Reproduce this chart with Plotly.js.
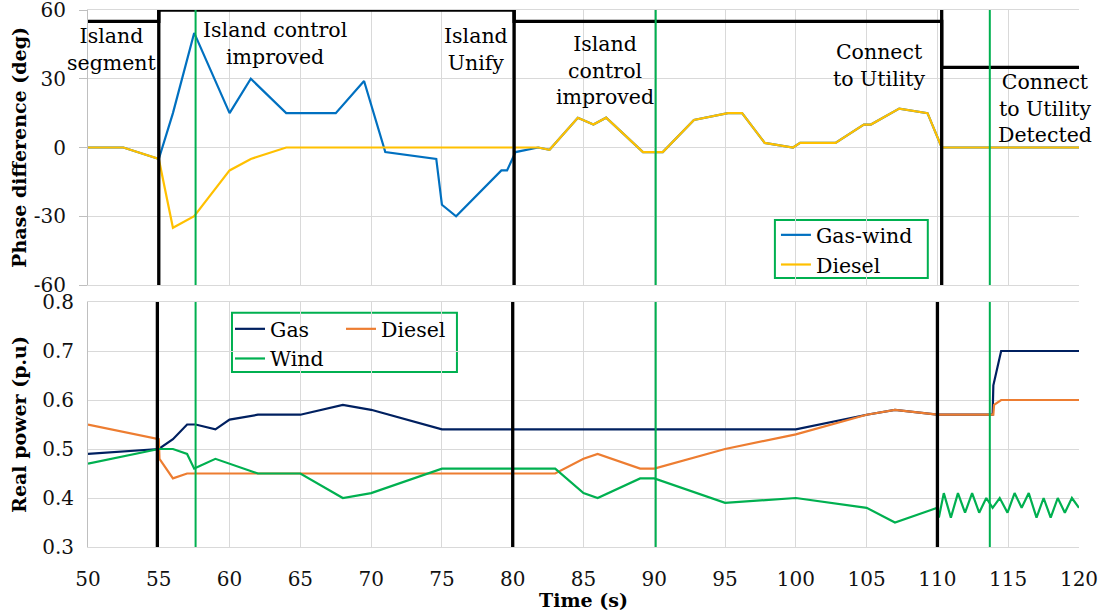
<!DOCTYPE html>
<html>
<head>
<meta charset="utf-8">
<script src="https://cdn.plot.ly/plotly-3.0.1.min.js"></script>
<style>
  html, body { margin: 0; padding: 0; background: #fff; }
  #chart { width: 1108px; height: 611px; }
</style>
</head>
<body>
<div id="chart"></div>
<script>
// ---------- data ----------
// Top panel: phase difference (deg)
const gasWindX = [50, 52.5, 55, 56, 57.5, 60, 61.5, 64, 67.5, 69.5, 71, 74.6, 75, 76, 79.2, 79.6, 80.2, 81.8, 82.6, 84.6, 85.7, 86.6, 89.2, 90.6, 92.8, 95.2, 96.2, 97.8, 99.8, 100.3, 102.8, 104.8, 105.3, 107.3, 109.3, 110.3, 120];
const gasWindY = [0, 0, -5, 15, 50, 15, 30, 15, 15, 29, -2, -5, -25, -30, -10, -10, -2, 0, -1, 13, 10, 13, -2, -2, 12, 15, 15, 2, 0, 2, 2, 10, 10, 17, 15, 0, 0];

const dieselPhX = [50, 52.5, 55, 56, 57.5, 60, 61.5, 64, 81.8, 82.6, 84.6, 85.7, 86.6, 89.2, 90.6, 92.8, 95.2, 96.2, 97.8, 99.8, 100.3, 102.8, 104.8, 105.3, 107.3, 109.3, 110.3, 120];
const dieselPhY = [0, 0, -5, -35, -30, -10, -5, 0, 0, -1, 13, 10, 13, -2, -2, 12, 15, 15, 2, 0, 2, 2, 10, 10, 17, 15, 0, 0];

// Mode indicator step line (top panel)
const modeX = [50, 55, 55, 80.1, 80.1, 110.3, 110.3, 120];
const modeY = [55, 55, 60, 60, 55, 55, 35, 35];

// Event markers
const topBlackX = [55, 80.1, 110.3];
const botBlackX = [54.9, 80, 110];
const greenX = [57.6, 90.1, 113.7];

// Bottom panel: real power (p.u)
const gasX = [50, 55, 56, 57, 57.6, 59, 60, 62, 65, 68, 70, 75, 100, 105, 107, 110, 113.9, 113.95, 114.5, 120];
const gasY = [0.49, 0.50, 0.52, 0.55, 0.55, 0.54, 0.56, 0.57, 0.57, 0.59, 0.58, 0.54, 0.54, 0.57, 0.58, 0.57, 0.57, 0.63, 0.70, 0.70];

const dieselX = [50, 55, 55.05, 56, 57, 83, 85, 86, 89, 90, 95, 100, 105, 107, 110, 113.95, 114, 114.5, 120];
const dieselY = [0.55, 0.52, 0.48, 0.44, 0.45, 0.45, 0.48, 0.49, 0.46, 0.46, 0.50, 0.53, 0.57, 0.58, 0.57, 0.57, 0.59, 0.60, 0.60];

const windX = [50, 55, 56, 57, 57.5, 59, 62, 65, 68, 70, 75, 83, 85, 86, 89, 90, 95, 100, 105, 107, 110, 110.1, 110.45, 110.95, 111.45, 111.95, 112.45, 112.95, 113.45, 113.9, 114.4, 114.95, 115.45, 115.95, 116.45, 117, 117.5, 118, 118.5, 119, 119.5, 120];
const windY = [0.47, 0.50, 0.50, 0.49, 0.46, 0.48, 0.45, 0.45, 0.40, 0.41, 0.46, 0.46, 0.41, 0.40, 0.44, 0.44, 0.39, 0.40, 0.38, 0.35, 0.38, 0.36, 0.41, 0.36, 0.41, 0.37, 0.41, 0.37, 0.40, 0.38, 0.40, 0.37, 0.41, 0.38, 0.41, 0.36, 0.40, 0.36, 0.40, 0.37, 0.40, 0.38];

// Ticks
const xTicks = [50, 55, 60, 65, 70, 75, 80, 85, 90, 95, 100, 105, 110, 115, 120];
const phaseTicks = [-60, -30, 0, 30, 60];
const phaseTickText = ['-60', '-30', '0', '30', '60'];
const powerTicks = [0.3, 0.4, 0.5, 0.6, 0.7, 0.8];

// Annotations (top panel)
const noteText = ['Island<br>segment', 'Island control<br>improved', 'Island<br>Unify', 'Island<br>control<br>improved', 'Connect<br>to Utility', 'Connect<br>to Utility<br>Detected'];
const noteX = [51.66, 63.2, 77.4, 86.5, 105.9, 117.6];
const noteY = [42.6, 45.4, 42.6, 33.8, 35.8, 17.2];

// ---------- helpers ----------
function vlines(xs, y0, y1) {
  const x = [], y = [];
  xs.forEach(v => { x.push(v, v, null); y.push(y0, y1, null); });
  return { x, y };
}

const FONT = 'DejaVu Serif, Liberation Serif, serif';
const GRID = '#D9D9D9';

const tb = vlines(topBlackX, phaseTicks[0], phaseTicks[phaseTicks.length - 1]);
const tg = vlines(greenX, phaseTicks[0], phaseTicks[phaseTicks.length - 1]);
const bb = vlines(botBlackX, powerTicks[0], powerTicks[powerTicks.length - 1]);
const bg = vlines(greenX, powerTicks[0], powerTicks[powerTicks.length - 1]);

const traces = [
  { x: gasWindX, y: gasWindY, xaxis: 'x2', yaxis: 'y', mode: 'lines', name: 'Gas-wind',
    line: { color: '#0070C0', width: 2.2 }, legend: 'legend' },
  { x: dieselPhX, y: dieselPhY, xaxis: 'x2', yaxis: 'y', mode: 'lines', name: 'Diesel',
    line: { color: '#FFC000', width: 2.2 }, legend: 'legend' },
  { x: modeX, y: modeY, xaxis: 'x2', yaxis: 'y', mode: 'lines', showlegend: false, cliponaxis: false,
    line: { color: '#000000', width: 3.3 } },
  { x: tb.x, y: tb.y, xaxis: 'x2', yaxis: 'y', mode: 'lines', showlegend: false,
    line: { color: '#000000', width: 3.3 } },
  { x: tg.x, y: tg.y, xaxis: 'x2', yaxis: 'y', mode: 'lines', showlegend: false,
    line: { color: '#00B050', width: 2 } },

  { x: gasX, y: gasY, xaxis: 'x', yaxis: 'y2', mode: 'lines', name: 'Gas',
    line: { color: '#002060', width: 2.2 }, legend: 'legend2' },
  { x: dieselX, y: dieselY, xaxis: 'x', yaxis: 'y2', mode: 'lines', name: 'Diesel',
    line: { color: '#ED7D31', width: 2.2 }, legend: 'legend3' },
  { x: windX, y: windY, xaxis: 'x', yaxis: 'y2', mode: 'lines', name: 'Wind',
    line: { color: '#00B050', width: 2.2 }, legend: 'legend2' },
  { x: bb.x, y: bb.y, xaxis: 'x', yaxis: 'y2', mode: 'lines', showlegend: false,
    line: { color: '#000000', width: 3.3 } },
  { x: bg.x, y: bg.y, xaxis: 'x', yaxis: 'y2', mode: 'lines', showlegend: false,
    line: { color: '#00B050', width: 2 } }
];

const tickFont = { family: FONT, size: 20, color: '#111' };
const titleFont = { family: FONT, size: 19, color: '#000', weight: 'bold' };
const legendFont = { family: FONT, size: 20.5, color: '#000' };

const layout = {
  width: 1108, height: 611,
  margin: { l: 88, r: 29, t: 10, b: 64 },
  paper_bgcolor: '#ffffff', plot_bgcolor: '#ffffff',
  font: { family: FONT, color: '#000' },
  hovermode: false,
  xaxis: {
    domain: [0, 1], anchor: 'y2', range: [50, 120],
    tickvals: xTicks, ticks: '', tickfont: tickFont,
    showgrid: true, gridcolor: GRID, gridwidth: 1,
    showline: true, linecolor: GRID, linewidth: 1, mirror: true,
    zeroline: false, ticklabelstandoff: 14, ticklabeloverflow: 'allow',
    title: { text: 'Time (s)', font: titleFont, standoff: 0 }
  },
  xaxis2: {
    domain: [0, 1], anchor: 'y', range: [50, 120], matches: 'x',
    tickvals: xTicks, showticklabels: false, ticks: '',
    showgrid: true, gridcolor: GRID, gridwidth: 1,
    showline: true, linecolor: GRID, linewidth: 1, mirror: true, zeroline: false
  },
  yaxis: {
    domain: [0.4879, 1], anchor: 'x2', range: [-60, 60],
    tickvals: phaseTicks, ticktext: phaseTickText,
    ticks: 'outside', ticklen: 8, tickcolor: '#BFBFBF', tickwidth: 1,
    tickfont: tickFont, ticklabelstandoff: 9, ticklabeloverflow: 'allow',
    showgrid: true, gridcolor: GRID, gridwidth: 1,
    showline: true, linecolor: '#BFBFBF', linewidth: 1, mirror: false, zeroline: false,
    title: { text: 'Phase difference (deg)', font: titleFont, standoff: 2 }
  },
  yaxis2: {
    domain: [0, 0.4562], anchor: 'x', range: [0.3, 0.8],
    tickvals: powerTicks, tickformat: '.1f', ticks: '',
    tickfont: tickFont, ticklabelstandoff: 9, ticklabeloverflow: 'allow',
    showgrid: true, gridcolor: GRID, gridwidth: 1,
    showline: true, linecolor: '#BFBFBF', linewidth: 1, mirror: false, zeroline: false,
    title: { text: 'Real power (p.u)', font: titleFont, standoff: 10 }
  },
  legend: {
    x: 0.6942, y: 0.6182, xanchor: 'left', yanchor: 'top',
    bgcolor: 'rgba(0,0,0,0)', borderwidth: 0, font: legendFont,
    orientation: 'v', tracegroupgap: 0, itemwidth: 30
  },
  legend2: {
    x: 0.1433, y: 0.4432, xanchor: 'left', yanchor: 'top',
    bgcolor: 'rgba(0,0,0,0)', borderwidth: 0, font: legendFont,
    orientation: 'v', tracegroupgap: 0, itemwidth: 30
  },
  legend3: {
    x: 0.2553, y: 0.4432, xanchor: 'left', yanchor: 'top',
    bgcolor: 'rgba(0,0,0,0)', borderwidth: 0, font: legendFont,
    orientation: 'v', tracegroupgap: 0, itemwidth: 30
  },
  shapes: [
    { type: 'rect', xref: 'x2', yref: 'y', x0: 98.52, x1: 109.32, y0: -56.99, y1: -31.66,
      line: { color: '#00B050', width: 2 }, fillcolor: '#ffffff', layer: 'below' },
    { type: 'rect', xref: 'x', yref: 'y2', x0: 60.17, x1: 76.06, y0: 0.657, y1: 0.778,
      line: { color: '#00B050', width: 2 }, fillcolor: '#ffffff', layer: 'below' }
  ],
  annotations: noteText.map((t, i) => ({
    text: t, x: noteX[i], y: noteY[i], xref: 'x2', yref: 'y',
    showarrow: false, align: 'center', xanchor: 'center', yanchor: 'middle',
    font: { family: FONT, size: 20.5, color: '#000' }
  }))
};

Plotly.newPlot('chart', traces, layout, { displayModeBar: false, staticPlot: true });
</script>
</body>
</html>
